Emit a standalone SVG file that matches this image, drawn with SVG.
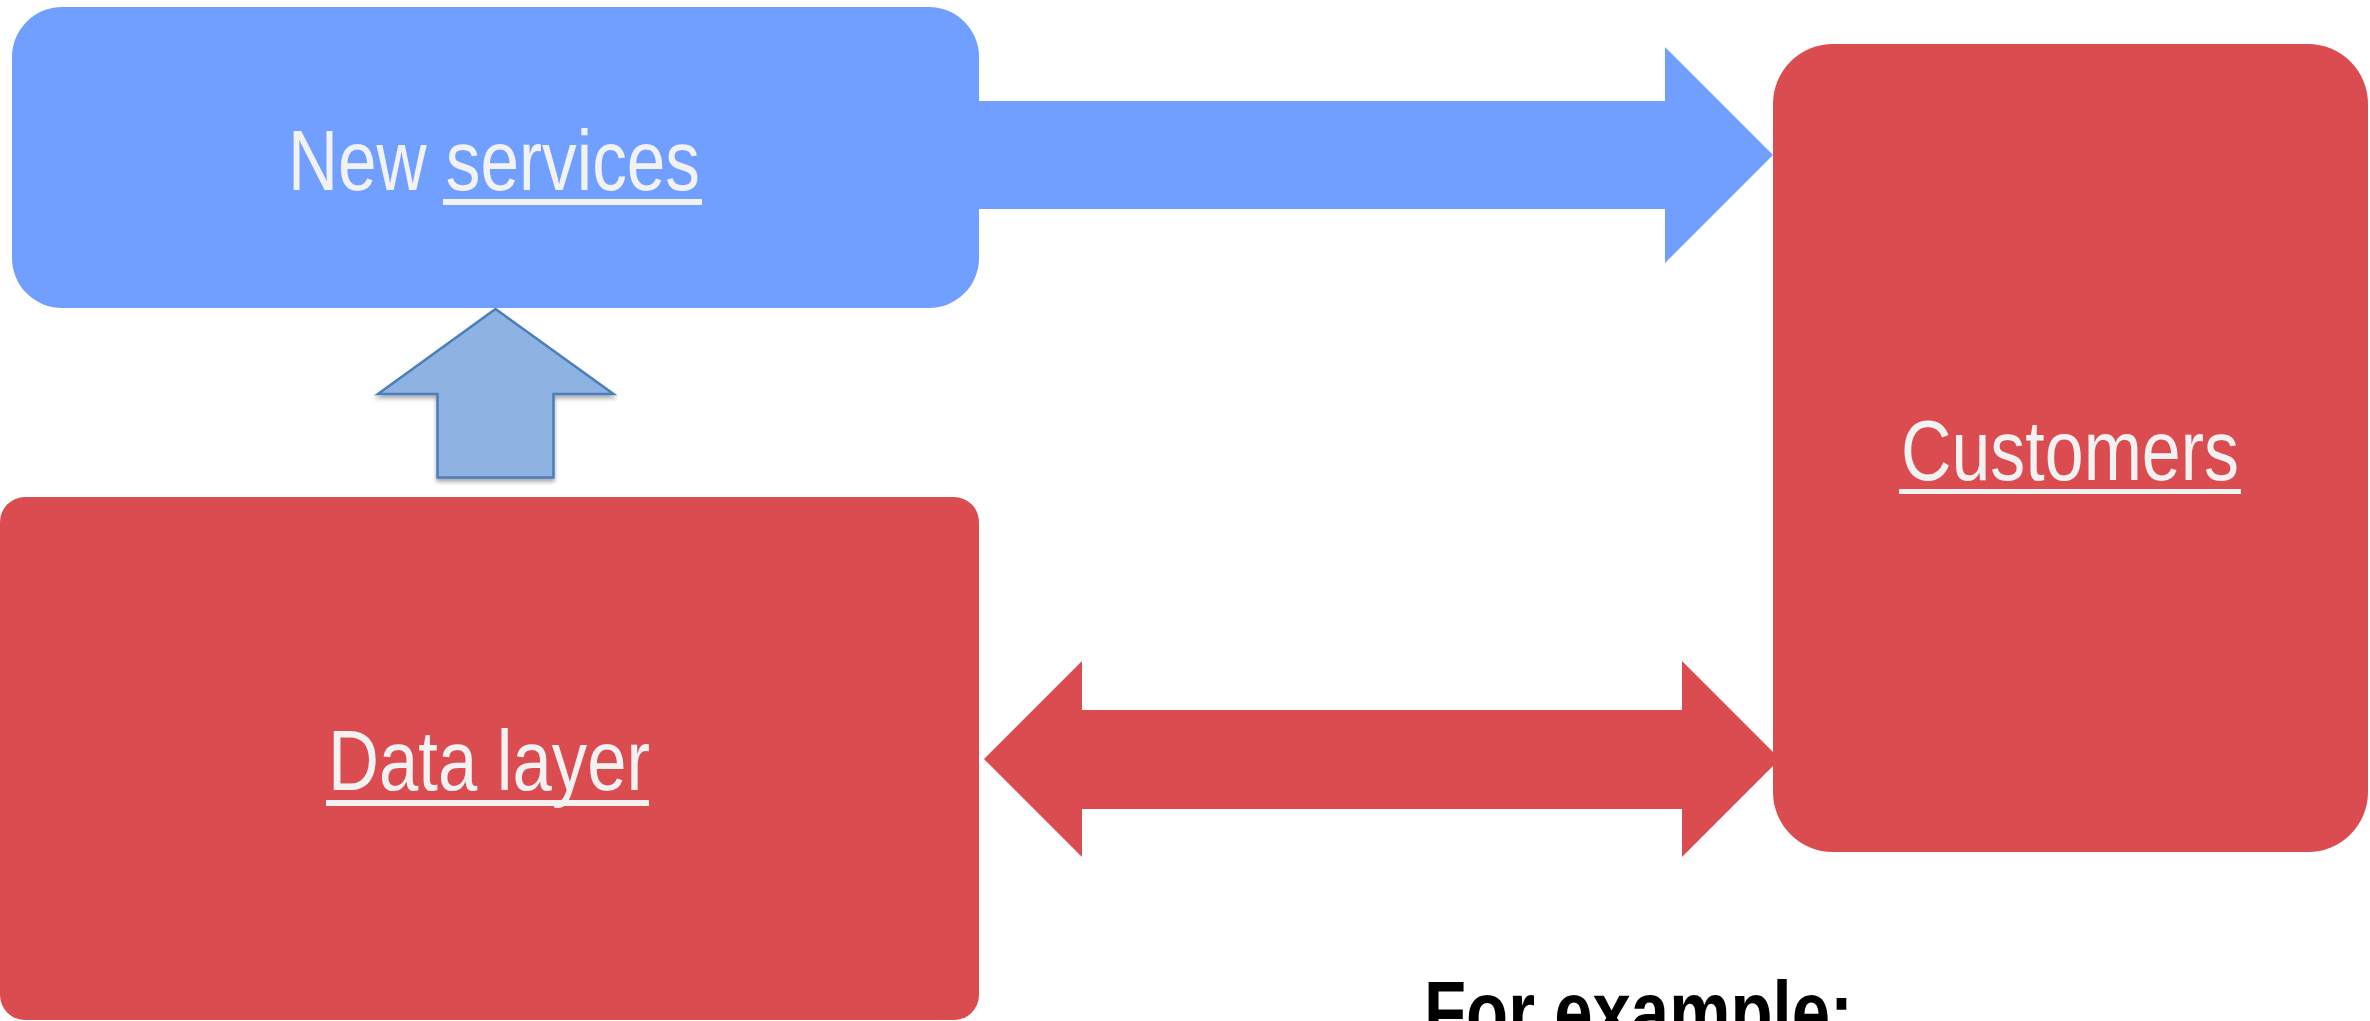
<svg xmlns="http://www.w3.org/2000/svg" width="2370" height="1021" viewBox="0 0 2370 1021">
  <style>
    .lbl { font-family: "Liberation Sans", Arial, sans-serif; font-size: 85px; fill: #F2F2F2; text-anchor: middle; }
    .ul { fill: #F2F2F2; }
    .blue { fill: #719FFF; }
    .red { fill: #DB4C51; }
  </style>
  <defs>
    <filter id="shadow" x="-20%" y="-20%" width="140%" height="140%">
      <feDropShadow dx="0" dy="3" stdDeviation="2" flood-color="#000" flood-opacity="0.35"/>
    </filter>
  </defs>
  <rect width="2370" height="1021" fill="#FFFFFF"/>

  <g id="connectors">
    <path id="arrow-services-customers" class="blue" d="M978,101 L1665,101 L1665,47 L1773,155 L1665,263 L1665,209 L978,209 Z"/>
    <path id="arrow-data-customers" class="red" d="M984,759 L1082,661 L1082,710 L1682,710 L1682,661 L1780,759 L1682,857 L1682,809 L1082,809 L1082,857 Z"/>
    <path id="arrow-data-services" d="M495.5,309 L613.5,394 L553.5,394 L553.5,477.5 L437.5,477.5 L437.5,394 L378,394 Z" fill="#8EB3E3" stroke="#4A7EBB" stroke-width="2.5" stroke-linejoin="miter" filter="url(#shadow)"/>
  </g>

  <g id="new-services">
    <rect class="blue" x="12" y="7" width="967" height="301" rx="50" ry="50"/>
    <text class="lbl" x="494" y="190" textLength="412" lengthAdjust="spacingAndGlyphs">New services</text>
    <rect class="ul" x="443" y="199" width="259" height="6"/>
  </g>

  <g id="customers">
    <rect class="red" x="1773" y="44" width="595" height="808" rx="60" ry="60"/>
    <text class="lbl" x="2070" y="480" textLength="338" lengthAdjust="spacingAndGlyphs">Customers</text>
    <rect class="ul" x="1899" y="489" width="342" height="5"/>
  </g>

  <g id="data-layer">
    <rect class="red" x="0" y="497" width="979" height="523" rx="25" ry="25"/>
    <text class="lbl" x="489" y="790" textLength="322" lengthAdjust="spacingAndGlyphs">Data layer</text>
    <rect class="ul" x="326" y="800" width="323" height="6"/>
  </g>

  <g id="for-example">
    <text x="1424" y="1041" textLength="429" lengthAdjust="spacingAndGlyphs" style="font-family: 'Liberation Sans', Arial, sans-serif; font-size: 85px; font-weight: bold; fill: #000000;">For example:</text>
  </g>
</svg>
